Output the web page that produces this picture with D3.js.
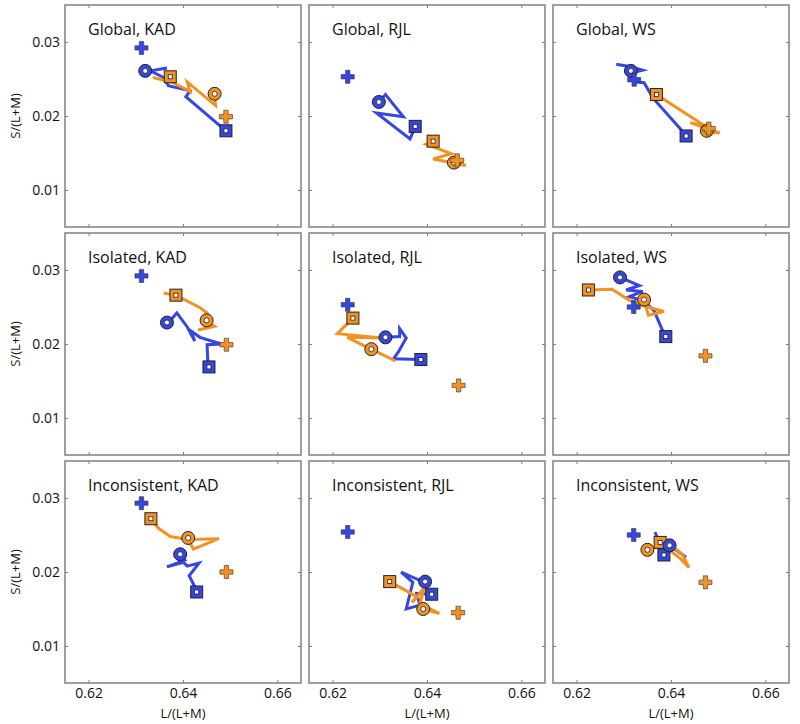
<!DOCTYPE html>
<html>
<head>
<meta charset="utf-8">
<title>chromaticity trajectories</title>
<style>
    body {
        margin: 0;
        padding: 0;
        background: #fff;
    }
    svg text {
        font-family: "Open Sans", "DejaVu Sans", sans-serif;
        fill: #111;
    }
    .tick line {
        stroke: #808080;
    }
    .frame {
        fill: none;
        stroke: #808080;
        stroke-width: 1.5;
    }
</style>
</head>
<body>
<svg width="800" height="724"></svg>
<script src="https://cdn.jsdelivr.net/npm/d3@7"></script>
<script>
// rows / columns of the grid
var conditions = ["Global", "Isolated", "Inconsistent"];
var observers = ["KAD", "RJL", "WS"];
var xTicks = [0.62, 0.64, 0.66];
var yTicks = [0.01, 0.02, 0.03];

// one entry per panel, row by row: [L/(L+M), S/(L+M)]
var blueLine = [
    [[0.6366,0.0265],[0.6331,0.0261],[0.6359,0.0252],[0.6369,0.0241],[0.6415,0.0234],[0.6406,0.0226],[0.6491,0.0180]],
    [[0.6298,0.0219],[0.6312,0.0229],[0.6350,0.0199],[0.6293,0.0204],[0.6364,0.0169],[0.6375,0.0185]],
    [[0.6284,0.0270],[0.6312,0.0267],[0.6340,0.0262],[0.6315,0.0258],[0.6326,0.0246],[0.6343,0.0245],[0.6362,0.0224],[0.6432,0.0174]],
    [[0.6375,0.0233],[0.6387,0.0242],[0.6409,0.0223],[0.6425,0.0204],[0.6416,0.0218],[0.6436,0.0209],[0.6481,0.0200],[0.6451,0.0199],[0.6453,0.0170]],
    [[0.6312,0.0209],[0.6342,0.0210],[0.6342,0.0221],[0.6356,0.0208],[0.6347,0.0198],[0.6340,0.0190],[0.6329,0.0180],[0.6387,0.0179]],
    [[0.6292,0.0290],[0.6333,0.0279],[0.6305,0.0273],[0.6340,0.0271],[0.6312,0.0264],[0.6343,0.0258],[0.6364,0.0245],[0.6387,0.0211]],
    [[0.6397,0.0222],[0.6404,0.0216],[0.6366,0.0207],[0.6401,0.0213],[0.6409,0.0208],[0.6434,0.0212],[0.6413,0.0195],[0.6429,0.0175]],
    [[0.6394,0.0186],[0.6345,0.0200],[0.6370,0.0186],[0.6356,0.0150],[0.6385,0.0155],[0.6378,0.0171],[0.6410,0.0170]],
    [[0.6366,0.0254],[0.6376,0.0239],[0.6410,0.0230],[0.6432,0.0220]]
];
var orangeLine = [
    [[0.6336,0.0252],[0.6376,0.0246],[0.6415,0.0233],[0.6409,0.0246],[0.6469,0.0214],[0.6467,0.0228]],
    [[0.6413,0.0166],[0.6398,0.0162],[0.6452,0.0149],[0.6413,0.0142],[0.6482,0.0133],[0.6459,0.0140]],
    [[0.6369,0.0229],[0.6473,0.0186],[0.6441,0.0191],[0.6503,0.0177],[0.6473,0.0179]],
    [[0.6359,0.0269],[0.6385,0.0266],[0.6436,0.0249],[0.6451,0.0242],[0.6460,0.0223],[0.6432,0.0219],[0.6467,0.0224],[0.6451,0.0231]],
    [[0.6243,0.0235],[0.6210,0.0214],[0.6305,0.0208],[0.6231,0.0209],[0.6333,0.0177],[0.6282,0.0193]],
    [[0.6225,0.0273],[0.6275,0.0274],[0.6312,0.0259],[0.6340,0.0252],[0.6385,0.0244],[0.6352,0.0239],[0.6343,0.0259]],
    [[0.6332,0.0272],[0.6348,0.0259],[0.6373,0.0248],[0.6411,0.0244],[0.6476,0.0245],[0.6422,0.0231],[0.6411,0.0244]],
    [[0.6321,0.0187],[0.6380,0.0166],[0.6368,0.0159],[0.6394,0.0178],[0.6385,0.0157],[0.6426,0.0144],[0.6392,0.0150]],
    [[0.6377,0.0240],[0.6413,0.0230],[0.6425,0.0223],[0.6438,0.0206],[0.6420,0.0218],[0.6396,0.0230]]
];

var blueCircle = [[0.6320,0.0261],[0.6298,0.0219],[0.6315,0.0261],[0.6366,0.0229],[0.6312,0.0209],[0.6292,0.0290],[0.6394,0.0224],[0.6396,0.0187],[0.6397,0.0236]];
var blueSquare = [[0.6491,0.0180],[0.6375,0.0186],[0.6432,0.0173],[0.6455,0.0169],[0.6387,0.0179],[0.6389,0.0210],[0.6429,0.0173],[0.6410,0.0170],[0.6385,0.0223]];
var blueCross = [[0.6312,0.0292],[0.6232,0.0253],[0.6322,0.0249],[0.6312,0.0292],[0.6232,0.0253],[0.6321,0.0250],[0.6312,0.0293],[0.6232,0.0254],[0.6321,0.0250]];
var orangeCircle = [[0.6467,0.0230],[0.6457,0.0137],[0.6476,0.0180],[0.6450,0.0232],[0.6282,0.0193],[0.6343,0.0260],[0.6411,0.0246],[0.6392,0.0150],[0.6350,0.0230]];
var orangeSquare = [[0.6373,0.0253],[0.6413,0.0166],[0.6369,0.0229],[0.6385,0.0266],[0.6243,0.0235],[0.6225,0.0273],[0.6332,0.0272],[0.6321,0.0187],[0.6377,0.0240]];
var orangeCross = [[0.6491,0.0199],[0.6464,0.0140],[0.6480,0.0183],[0.6492,0.0199],[0.6467,0.0144],[0.6473,0.0184],[0.6492,0.0200],[0.6466,0.0145],[0.6473,0.0186]];

var blue = "#3547e0";
var orange = "#f39223";

var panelW = 236, panelH = 222;
var left0 = 65, top0 = 5, stepX = 244, stepY = 228;

var x = d3.scaleLinear().domain([0.615, 0.665]).range([0, panelW]);
var y = d3.scaleLinear().domain([0.005, 0.035]).range([panelH, 0]);

var line = d3.line()
    .x(function(d) { return x(d[0]); })
    .y(function(d) { return y(d[1]); });

var svg = d3.select("svg");

conditions.forEach(function(cond, r) {
    observers.forEach(function(obs, c) {
        var i = r * 3 + c;
        var g = svg.append("g")
            .attr("transform", "translate(" + (left0 + c * stepX) + "," + (top0 + r * stepY) + ")");

        // ticks on all four sides, pointing inwards
        g.append("g").attr("transform", "translate(0," + panelH + ")")
            .call(d3.axisBottom(x).tickValues(xTicks).tickSize(-3).tickPadding(5)
                .tickFormat(r == 2 ? d3.format(".2f") : ""));
        g.append("g")
            .call(d3.axisTop(x).tickValues(xTicks).tickSize(-3).tickFormat(""));
        g.append("g")
            .call(d3.axisLeft(y).tickValues(yTicks).tickSize(-3).tickPadding(5)
                .tickFormat(c == 0 ? d3.format(".2f") : ""));
        g.append("g").attr("transform", "translate(" + panelW + ",0)")
            .call(d3.axisRight(y).tickValues(yTicks).tickSize(-3).tickFormat(""));

        g.selectAll(".domain").remove();
        g.selectAll(".tick text").style("font-size", "14px").attr("fill", "#111");

        g.append("rect").attr("class", "frame")
            .attr("width", panelW).attr("height", panelH);

        g.append("text")
            .attr("x", 23).attr("y", 30)
            .style("font-size", "16px")
            .text(cond + ", " + obs);

        // trajectories
        g.append("path").datum(blueLine[i])
            .attr("d", line)
            .attr("fill", "none").attr("stroke", blue)
            .attr("stroke-width", 3).attr("stroke-linejoin", "miter");
        g.append("path").datum(orangeLine[i])
            .attr("d", line)
            .attr("fill", "none").attr("stroke", orange)
            .attr("stroke-width", 3).attr("stroke-linejoin", "miter");

        function square(p, col) {
            g.append("rect")
                .attr("x", x(p[0]) - 6).attr("y", y(p[1]) - 6)
                .attr("width", 12).attr("height", 12)
                .attr("fill", col).attr("stroke", "#222").attr("stroke-width", 1);
            g.append("rect")
                .attr("x", x(p[0]) - 2).attr("y", y(p[1]) - 2)
                .attr("width", 4).attr("height", 4)
                .attr("fill", "#fff").attr("stroke", "#222").attr("stroke-width", 0.8);
        }
        function circle(p, col) {
            g.append("circle")
                .attr("cx", x(p[0])).attr("cy", y(p[1])).attr("r", 6.5)
                .attr("fill", col).attr("stroke", "#222").attr("stroke-width", 1);
            g.append("circle")
                .attr("cx", x(p[0])).attr("cy", y(p[1])).attr("r", 2.5)
                .attr("fill", "#fff").attr("stroke", "#222").attr("stroke-width", 0.8);
        }
        function cross(p, col) {
            g.append("path")
                .attr("d", d3.symbol(d3.symbolCross, 95)())
                .attr("transform", "translate(" + x(p[0]) + "," + y(p[1]) + ")")
                .attr("fill", col).attr("stroke", "#333").attr("stroke-width", 0.6);
        }

        square(blueSquare[i], blue);
        square(orangeSquare[i], orange);
        circle(blueCircle[i], blue);
        circle(orangeCircle[i], orange);
        cross(blueCross[i], blue);
        cross(orangeCross[i], orange);

        if (c == 0) {
            g.append("text")
                .attr("transform", "translate(-45," + (panelH / 2) + ") rotate(-90)")
                .attr("text-anchor", "middle")
                .style("font-size", "13px")
                .text("S/(L+M)");
        }
        if (r == 2) {
            g.append("text")
                .attr("x", panelW / 2).attr("y", panelH + 35)
                .attr("text-anchor", "middle")
                .style("font-size", "13px")
                .text("L/(L+M)");
        }
    });
});
</script>
</body>
</html>
